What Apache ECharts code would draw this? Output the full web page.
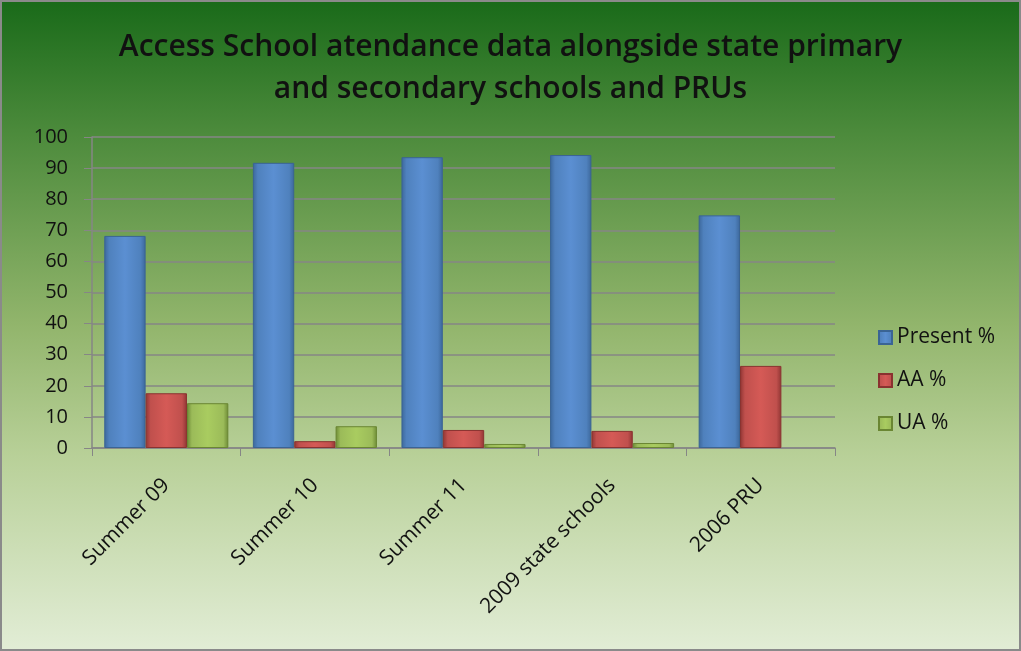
<!DOCTYPE html>
<html lang="en">
<head>
<meta charset="UTF-8">
<script src="https://cdn.jsdelivr.net/npm/echarts@6/dist/echarts.min.js"></script>
<style>
  html, body { margin: 0; padding: 0; width: 100%; height: 100%; }
  #chart { width: 1021px; height: 651px; }
</style>
</head>
<body>
<div id="chart"></div>
<script>
var categories = ['Summer 09', 'Summer 10', 'Summer 11', '2009 state schools', '2006 PRU'];
var presentPct = [68.2, 91.7, 93.5, 94.2, 74.8];
var aaPct = [17.6, 2.2, 5.8, 5.5, 26.4];
var uaPct = [14.4, 7.0, 1.3, 1.6, '-'];
var yTicks = [0, 100, 10];

function bevel(dark, mid, light) {
    return new echarts.graphic.LinearGradient(0, 0, 1, 0, [
        { offset: 0, color: dark },
        { offset: 0.12, color: mid },
        { offset: 0.5, color: light },
        { offset: 0.88, color: mid },
        { offset: 1, color: dark }
    ]);
}

var chart = echarts.init(document.getElementById('chart'));
var font = '"Open Sans", "Noto Sans", sans-serif';

chart.setOption({
    backgroundColor: new echarts.graphic.LinearGradient(0, 0, 0, 1, [
        { offset: 0, color: '#196a19' },
        { offset: 0.2, color: '#4b8a3b' },
        { offset: 0.5, color: '#92b56c' },
        { offset: 0.7, color: '#b8d098' },
        { offset: 1, color: '#e2edd6' }
    ]),
    animation: false,
    textStyle: { fontFamily: font },
    graphic: [{
        type: 'rect',
        silent: true,
        shape: { x: 0, y: 0, width: 1021, height: 651 },
        style: { fill: 'none', stroke: '#8a8a8a', lineWidth: 4 }
    }],
    title: {
        text: 'Access School atendance data alongside state primary\nand secondary schools and PRUs',
        left: 'center',
        top: 21,
        textStyle: {
            fontFamily: font,
            fontSize: 30,
            fontWeight: 600,
            color: '#111',
            lineHeight: 42
        }
    },
    legend: {
        orient: 'vertical',
        left: 873,
        top: 322,
        icon: 'rect',
        itemWidth: 13,
        itemHeight: 13,
        itemGap: 22,
        textStyle: { fontSize: 21, color: '#111', fontFamily: font },
        data: ['Present %', 'AA %', 'UA %']
    },
    grid: { left: 92, right: 186, top: 137, bottom: 203 },
    xAxis: {
        type: 'category',
        data: categories,
        axisLine: { lineStyle: { color: '#868686', width: 1.5 } },
        axisTick: { show: true, length: 8, lineStyle: { color: '#868686' } },
        axisLabel: {
            rotate: 45,
            fontSize: 21,
            color: '#111',
            margin: 34,
            interval: 0
        }
    },
    yAxis: {
        type: 'value',
        min: yTicks[0],
        max: yTicks[1],
        interval: yTicks[2],
        axisLine: { show: true, lineStyle: { color: '#868686', width: 1.5 } },
        axisTick: { show: true, length: 8, inside: false, lineStyle: { color: '#868686' } },
        axisLabel: { fontSize: 20, color: '#111', margin: 24 },
        splitLine: { lineStyle: { color: '#868686', width: 1.5 } }
    },
    series: [
        {
            name: 'Present %',
            type: 'bar',
            data: presentPct,
            barGap: '0%',
            barCategoryGap: '16.5%',
            itemStyle: {
                color: bevel('#3c679a', '#4f81bd', '#5b8fd2'),
                borderColor: '#3a6494',
                borderWidth: 1
            }
        },
        {
            name: 'AA %',
            type: 'bar',
            data: aaPct,
            itemStyle: {
                color: bevel('#8f3533', '#c0504d', '#d55a56'),
                borderColor: '#8a3230',
                borderWidth: 1
            }
        },
        {
            name: 'UA %',
            type: 'bar',
            data: uaPct,
            itemStyle: {
                color: bevel('#6c8a35', '#9bbb59', '#a9cc60'),
                borderColor: '#6a8633',
                borderWidth: 1
            }
        }
    ]
});
</script>
</body>
</html>
